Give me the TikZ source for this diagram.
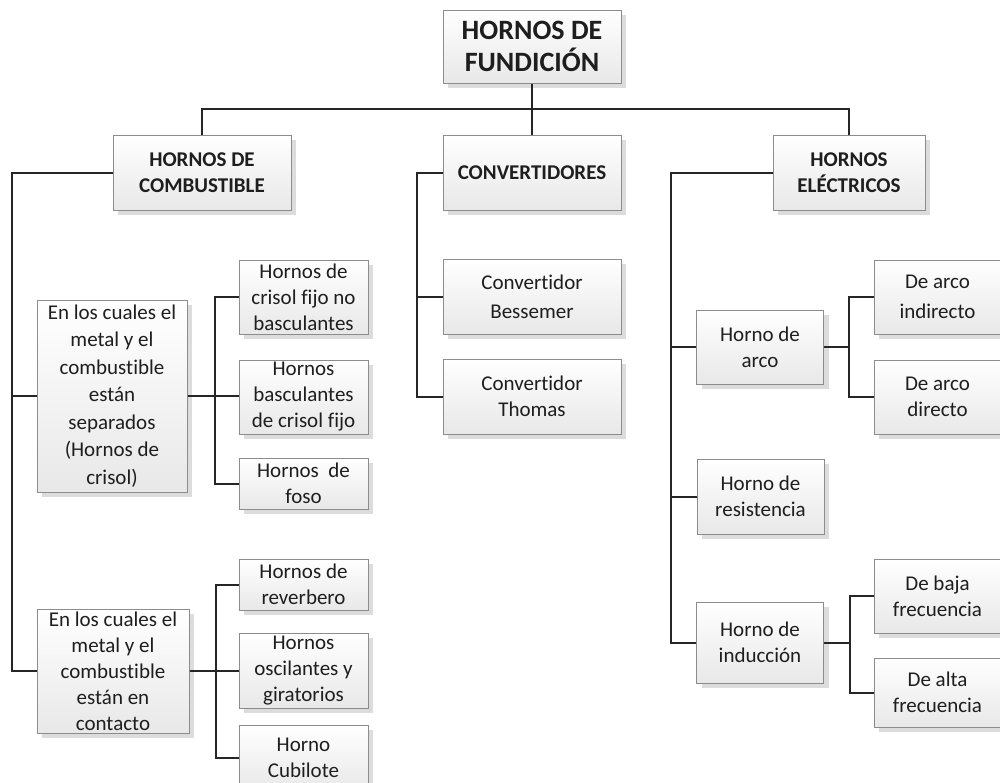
\documentclass[tikz,border=0pt]{standalone}
\usepackage{fontspec}
\setmainfont{Carlito}[Ligatures={NoCommon}]
\usetikzlibrary{shadows}
\definecolor{txt}{HTML}{1E1E1E}
\definecolor{bord}{HTML}{8C8C8C}
\definecolor{shad}{HTML}{DCDCDC}
\definecolor{wire}{HTML}{262626}
\tikzset{
  box/.style={draw=bord, line width=1pt, top color=white, bottom color=black!9,
    drop shadow={shadow xshift=5pt, shadow yshift=-5pt, fill=shad, opacity=1},
    align=center, inner sep=1pt, text=txt,
    font=\fontsize{21}{26}\selectfont},
  hbox/.style={box, font=\fontsize{21}{26}\selectfont\bfseries},
  tbox/.style={box, font=\fontsize{28}{32}\selectfont\bfseries},
  wire/.style={draw=wire, line width=2pt}
}
\begin{document}
\begin{tikzpicture}[x=1pt,y=-1pt]
\useasboundingbox (0,0) rectangle (1000,782);
% title
\node[tbox, minimum width=178pt, minimum height=73pt] (t) at (532,46.5) {HORNOS DE\\FUNDICIÓN};
% level 1
\node[hbox, minimum width=178pt, minimum height=75pt] (c1) at (202,172.5) {HORNOS DE\\COMBUSTIBLE};
\node[hbox, minimum width=178pt, minimum height=75pt] (c2) at (532,172.5) {CONVERTIDORES};
\node[hbox, minimum width=152pt, minimum height=75pt] (c3) at (849,172.5) {HORNOS\\ELÉCTRICOS};
% combustible groups
\node[box, minimum width=150pt, minimum height=192pt, font=\fontsize{21}{27.5}\selectfont] (g1) at (112,396) {En los cuales el\\metal y el\\combustible\\están\\separados\\(Hornos de\\crisol)};
\node[box, minimum width=152pt, minimum height=124pt] (g2) at (113,671) {En los cuales el\\metal y el\\combustible\\están en\\contacto};
% crisol children
\node[box, minimum width=129pt, minimum height=74pt] (s1) at (303.5,297) {Hornos de\\crisol fijo no\\basculantes};
\node[box, minimum width=129pt, minimum height=74pt] (s2) at (303.5,397) {Hornos\\basculantes\\de crisol fijo};
\node[box, minimum width=129pt, minimum height=51pt] (s3) at (303.5,483.5) {Hornos\ \ de\\foso};
% contacto children
\node[box, minimum width=129pt, minimum height=51pt] (s4) at (303.5,584.5) {Hornos de\\reverbero};
\node[box, minimum width=129pt, minimum height=75pt] (s5) at (303.5,670.5) {Hornos\\oscilantes y\\giratorios};
\node[box, minimum width=129pt, minimum height=66pt] (s6) at (303.5,758) {Horno\\Cubilote};
% convertidores
\node[box, minimum width=178pt, minimum height=75pt, font=\fontsize{21}{29}\selectfont] (b1) at (532,296.5) {Convertidor\\Bessemer};
\node[box, minimum width=178pt, minimum height=75pt] (b2) at (532,396.5) {Convertidor\\Thomas};
% electricos
\node[box, minimum width=127pt, minimum height=74pt] (e1) at (760,347) {Horno de\\arco};
\node[box, minimum width=127pt, minimum height=75pt] (e2) at (760.5,496.5) {Horno de\\resistencia};
\node[box, minimum width=127pt, minimum height=81pt] (e3) at (760,642.5) {Horno de\\inducción};
\node[box, minimum width=127pt, minimum height=74pt, font=\fontsize{21}{30}\selectfont] (a1) at (937.5,297) {De arco\\indirecto};
\node[box, minimum width=127pt, minimum height=74pt] (a2) at (937.5,397) {De arco\\directo};
\node[box, minimum width=127pt, minimum height=74pt] (f1) at (937.5,596) {De baja\\frecuencia};
\node[box, minimum width=127pt, minimum height=69pt] (f2) at (937.5,692.5) {De alta\\frecuencia};
% connectors
\draw[wire] (t.south) -- ++(0,25) -| (c1.north);
\draw[wire] (t.south) -- (c2.north);
\draw[wire] (t.south) -- ++(0,25) -| (c3.north);
\draw[wire] (c1.west) -- ++(-101,0) |- (g1.west);
\draw[wire] (c1.west) -- ++(-101,0) |- (g2.west);
\draw[wire] (g1.east) -- ++(27,0) |- (s1.west);
\draw[wire] (g1.east) -- (s2.west |- g1.east);
\draw[wire] (g1.east) -- ++(27,0) |- (s3.west);
\draw[wire] (g2.east) -- ++(26,0) |- (s4.west);
\draw[wire] (g2.east) -- (s5.west |- g2.east);
\draw[wire] (g2.east) -- ++(26,0) |- (s6.west);
\draw[wire] (c2.west) -- ++(-26,0) |- (b1.west);
\draw[wire] (c2.west) -- ++(-26,0) |- (b2.west);
\draw[wire] (c3.west) -- ++(-102,0) |- (e1.west);
\draw[wire] (c3.west) -- ++(-102,0) |- (e2.west);
\draw[wire] (c3.west) -- ++(-102,0) |- (e3.west);
\draw[wire] (e1.east) -- ++(25,0) |- (a1.west);
\draw[wire] (e1.east) -- ++(25,0) |- (a2.west);
\draw[wire] (e3.east) -- ++(26,0) |- (f1.west);
\draw[wire] (e3.east) -- ++(26,0) |- (f2.west);
\end{tikzpicture}
\end{document}
